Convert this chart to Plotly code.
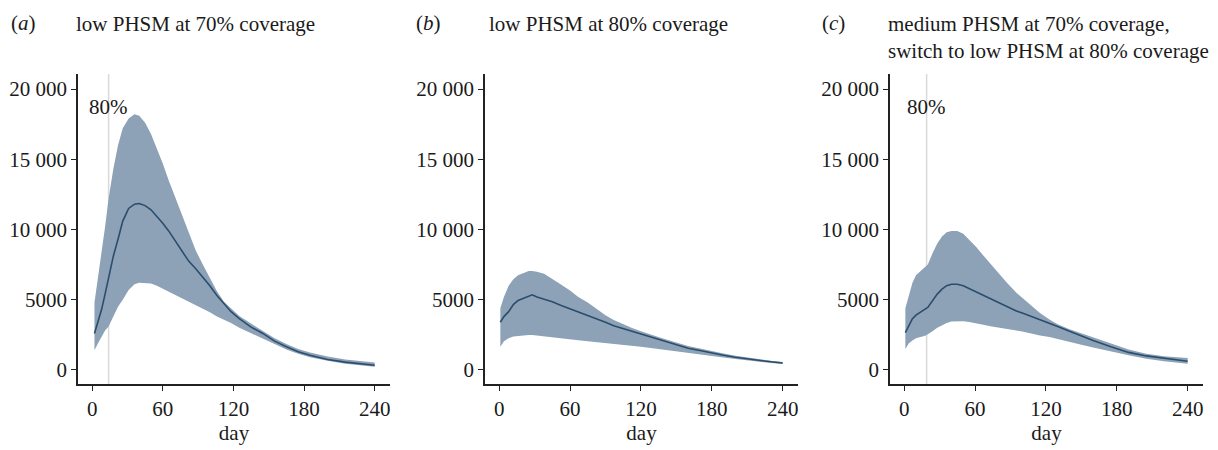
import plotly.graph_objects as go

# ---------------- data ----------------
days_a = [2, 5, 8, 11, 14, 18, 22, 26, 31, 36, 40, 45, 50, 55, 60, 65, 70, 76, 82, 88, 94, 100,
          106, 112, 118, 125, 135, 145, 155, 165, 175, 185, 200, 215, 230, 240]
mean_a = [2600, 3500, 4300, 5400, 6500, 8100, 9300, 10600, 11500, 11800, 11850, 11700, 11400, 10950,
          10450, 9900, 9250, 8500, 7750, 7200, 6600, 6000, 5300, 4700, 4150, 3650, 3050, 2600, 2050,
          1650, 1300, 1050, 750, 560, 420, 330]
upper_a = [4800, 6500, 8300, 10200, 12200, 14300, 16000, 17200, 17900, 18200, 18100, 17600, 16800,
           15800, 14700, 13500, 12400, 11000, 9800, 8500, 7500, 6500, 5600, 4850, 4400, 3850, 3300,
           2800, 2250, 1850, 1500, 1250, 950, 750, 600, 530]
lower_a = [1400, 1900, 2400, 2800, 3100, 3800, 4500, 5000, 5700, 6100, 6200, 6200, 6150, 6000, 5800,
           5600, 5400, 5100, 4850, 4600, 4350, 4100, 3800, 3550, 3350, 3000, 2650, 2250, 1850, 1450,
           1150, 900, 650, 450, 300, 220]

days_b = [1, 4, 8, 12, 16, 20, 25, 28, 32, 38, 45, 52, 60, 67, 75, 82, 90, 97, 105, 112, 120, 130,
          140, 150, 160, 170, 180, 190, 200, 215, 230, 240]
mean_b = [3400, 3800, 4150, 4650, 4950, 5100, 5250, 5350, 5200, 5050, 4850, 4600, 4350, 4150, 3900,
          3650, 3400, 3150, 2950, 2750, 2550, 2300, 2050, 1780, 1550, 1380, 1200, 1050, 900, 720, 580, 500]
upper_b = [4400, 5200, 6000, 6450, 6750, 6900, 7050, 7050, 7000, 6850, 6500, 6100, 5650, 5200, 4800,
           4350, 3900, 3550, 3250, 3000, 2750, 2450, 2200, 1950, 1700, 1520, 1330, 1170, 1020, 830, 660, 570]
lower_b = [1650, 2050, 2250, 2380, 2420, 2450, 2480, 2490, 2480, 2420, 2370, 2280, 2190, 2120, 2040,
           1960, 1890, 1830, 1770, 1720, 1660, 1550, 1440, 1330, 1220, 1100, 1000, 880, 780, 620, 500, 430]

days_c = [1, 4, 7, 10, 14, 17, 19, 20, 24, 28, 32, 36, 40, 45, 50, 55, 61, 67, 73, 80, 87, 95, 100,
          108, 115, 123, 130, 140, 150, 160, 175, 190, 205, 220, 240]
mean_c = [2650, 3200, 3650, 3900, 4150, 4300, 4400, 4450, 4950, 5400, 5750, 6000, 6100, 6100, 6000,
          5800, 5550, 5300, 5100, 4800, 4500, 4200, 4050, 3800, 3600, 3350, 3100, 2750, 2400, 2100,
          1650, 1250, 1000, 820, 620]
upper_c = [4400, 5400, 6200, 6750, 7050, 7250, 7400, 7500, 8300, 9000, 9500, 9800, 9900, 9900, 9700,
           9300, 8750, 8150, 7550, 6900, 6200, 5500, 5150, 4550, 4050, 3600, 3250, 2900, 2600, 2300,
           1850, 1450, 1150, 980, 850]
lower_c = [1500, 1900, 2100, 2250, 2350, 2420, 2480, 2500, 2750, 3000, 3200, 3350, 3450, 3480, 3470,
           3420, 3330, 3220, 3120, 3000, 2900, 2800, 2730, 2600, 2450, 2350, 2200, 2000, 1800, 1600,
           1300, 1050, 800, 620, 450]

switch_day = [14, None, 19]
panel_letters = ["a", "b", "c"]
panel_titles = ["low PHSM at 70% coverage", "low PHSM at 80% coverage",
                "medium PHSM at 70% coverage,<br>switch to low PHSM at 80% coverage"]
x_ticks = [0, 60, 120, 180, 240]
y_ticks = [0, 5000, 10000, 15000, 20000]
y_ticktext = ["0", "5000", "10 000", "15 000", "20 000"]

# ---------------- styling ----------------
W, H = 1218, 450
FONT = "Liberation Serif, Times New Roman, serif"
FILL = "rgba(141,162,183,1)"
LINE = "#2b4d6c"
AXC = "#222222"
TXT = "#1a1a1a"
FS = 21

x_dom = [[78 / W, 390 / W], [485 / W, 798 / W], [890 / W, 1203 / W]]
y_dom = [1 - 384 / H, 1 - 74 / H]
title_x = [(9, 74), (414, 487), (820, 886)]

data = [(days_a, mean_a, upper_a, lower_a), (days_b, mean_b, upper_b, lower_b),
        (days_c, mean_c, upper_c, lower_c)]

fig = go.Figure()
layout = dict(
    width=W, height=H, margin=dict(l=0, r=0, t=0, b=0),
    paper_bgcolor="white", plot_bgcolor="white", showlegend=False,
    font=dict(family=FONT, size=FS, color=TXT),
)
annotations = []
shapes = []
for i, (d, m, u, lo) in enumerate(data):
    sfx = "" if i == 0 else str(i + 1)
    xa, ya = "x" + sfx, "y" + sfx
    fig.add_trace(go.Scatter(x=d + d[::-1], y=u + lo[::-1], fill="toself", fillcolor=FILL,
                             line=dict(width=0), mode="lines", xaxis=xa, yaxis=ya, hoverinfo="skip"))
    fig.add_trace(go.Scatter(x=d, y=m, mode="lines", line=dict(color=LINE, width=1.6),
                             xaxis=xa, yaxis=ya))
    layout["xaxis" + sfx] = dict(
        domain=x_dom[i], anchor=ya, range=[-12, 253], tickvals=x_ticks,
        showline=True, linecolor=AXC, linewidth=1.5, ticks="outside", ticklen=5, tickcolor=AXC,
        showgrid=False, zeroline=False, tickfont=dict(family=FONT, size=FS, color=TXT),
        title=dict(text="day", font=dict(family=FONT, size=FS, color=TXT), standoff=4),
    )
    layout["yaxis" + sfx] = dict(
        domain=y_dom, anchor=xa, range=[-1000, 21070], tickvals=y_ticks, ticktext=y_ticktext,
        showline=True, linecolor=AXC, linewidth=1.5, ticks="outside", ticklen=5, tickcolor=AXC,
        showgrid=False, zeroline=False, tickfont=dict(family=FONT, size=FS, color=TXT),
    )
    if switch_day[i] is not None:
        shapes.append(dict(type="line", xref=xa, yref=ya + " domain", x0=switch_day[i],
                           x1=switch_day[i], y0=0, y1=1, line=dict(color="#d9d9d9", width=1.5),
                           layer="below"))
        annotations.append(dict(x=switch_day[i], y=18700, xref=xa, yref=ya, text="80%",
                                showarrow=False, xanchor="center", yanchor="middle",
                                font=dict(family=FONT, size=FS, color=TXT)))
    lx, tx = title_x[i]
    annotations.append(dict(x=lx / W, y=1 - 23 / H, xref="paper", yref="paper",
                            text="(<i>" + panel_letters[i] + "</i>)", showarrow=False,
                            xanchor="left", yanchor="middle",
                            font=dict(family=FONT, size=FS, color=TXT)))
    annotations.append(dict(x=tx / W, y=1 - 10 / H, xref="paper", yref="paper",
                            text=panel_titles[i], showarrow=False, xanchor="left", yanchor="top",
                            align="left", font=dict(family=FONT, size=FS, color=TXT)))

layout["annotations"] = annotations
layout["shapes"] = shapes
fig.update_layout(**layout)
fig.write_html("out.html")
